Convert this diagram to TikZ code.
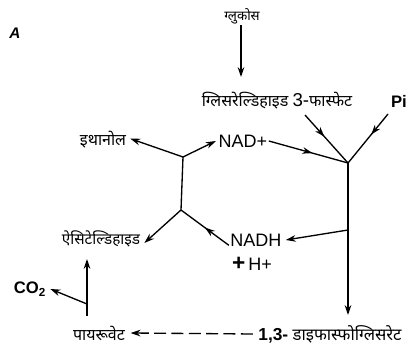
\documentclass[tikz,border=0pt]{standalone}
\usepackage{fontspec}
\setmainfont{Liberation Sans}
\newfontfamily\deva[Script=Devanagari]{Noto Sans}
\usetikzlibrary{arrows.meta,decorations.markings}

\tikzset{
  tip/.tip={Stealth[length=7.5pt,width=5pt]},
  flow/.style={line width=1pt,-tip},
  plain/.style={line width=1pt},
  midarrow/.style={line width=1pt,postaction={decorate},
    decoration={markings,mark=at position #1 with {\arrow{tip}}}},
  hindi/.style={font=\deva\fontsize{12}{13}\selectfont,inner sep=1pt},
  chem/.style={font=\fontsize{13.5}{15}\selectfont,inner sep=1pt},
  chembold/.style={font=\bfseries\fontsize{12.5}{14}\selectfont,inner sep=1pt}
}

\begin{document}
\begin{tikzpicture}[x=0.75pt,y=-0.75pt]
  \useasboundingbox (0,0) rectangle (412,353);

  % labels
  \node[font=\bfseries\itshape\fontsize{11.5}{12}\selectfont] (lblA) at (15,33) {A};
  \node[hindi,font=\deva\fontsize{10}{11}\selectfont] (gluc) at (242,16) {ग्लुकोस};
  \node[hindi] (g3p) at (277,101) {ग्लिसरेल्डिहाइड {\fontspec{Liberation Sans}\fontsize{14}{14}\selectfont 3-}फास्फेट};
  \node[chembold] (pi) at (399,101) {Pi};
  \node[chem] (nadp) at (243,141) {NAD+};
  \node[chem] (nadh) at (256,240) {NADH};
  \node[chem] (hplus) at (252,264) {{\bfseries\fontsize{17}{17}\selectfont +}\,H+};
  \node[hindi] (eth) at (103,140) {इथानोल};
  \node[hindi,font=\deva\fontsize{11.5}{12}\selectfont] (acet) at (101,239) {ऐसिटेल्डिहाइड};
  \node[chembold] (co2) at (30,289) {CO$_{\mathbf{2}}$};
  \node[hindi] (pyr) at (99,333) {पायरूवेट};
  \node[hindi,font=\deva\fontsize{12.5}{13}\selectfont] (dpg) at (330,334) {{\fontspec{Liberation Sans}\bfseries\fontsize{13}{14}\selectfont 1,3-} डाइफास्फोग्लिसरेट};

  % branch points and free ends
  \coordinate (jR) at (348,163);
  \coordinate (jRb) at (348,230);
  \coordinate (jLu) at (183,157);
  \coordinate (jLl) at (181,210);
  \coordinate (jP) at (87,304);
  \coordinate (g3pout) at (305,115);
  \coordinate (piout) at (388,114);
  \coordinate (glucin) at (241,77);
  \coordinate (dpgin) at (348,315);
  \coordinate (pyrbot) at (87,316);
  \coordinate (pyrtop) at (87,259);

  % glycolysis side
  \draw[flow] (gluc.south -| glucin) -- (glucin);
  \draw[midarrow=0.45] (g3pout) -- (jR);
  \draw[midarrow=0.42] (piout) -- (jR);
  \draw[midarrow=0.55] (nadp.east) -- (jR);
  \draw[flow] (jR) -- (dpgin);
  \draw[flow] (jRb) -- ([xshift=2pt]nadh.east);

  % fermentation side
  \draw[plain] (jLu) -- (jLl);
  \draw[flow] (jLu) -- ([xshift=2pt,yshift=1pt]eth.east);
  \draw[flow] (jLu) -- ([xshift=-1pt]nadp.west);
  \draw[flow] (jLl) -- ([xshift=2pt,yshift=-3pt]acet.east);
  \draw[midarrow=0.5] ([yshift=-4pt]nadh.west) -- (jLl);

  % pyruvate decarboxylation
  \draw[flow] (pyrbot) -- (pyrtop);
  \draw[flow] (jP) -- ([xshift=2pt]co2.east);
  \draw[flow,dashed,dash pattern=on 9pt off 4pt] ([xshift=-3pt]dpg.west) -- ([xshift=3pt]pyr.east);
\end{tikzpicture}
\end{document}
